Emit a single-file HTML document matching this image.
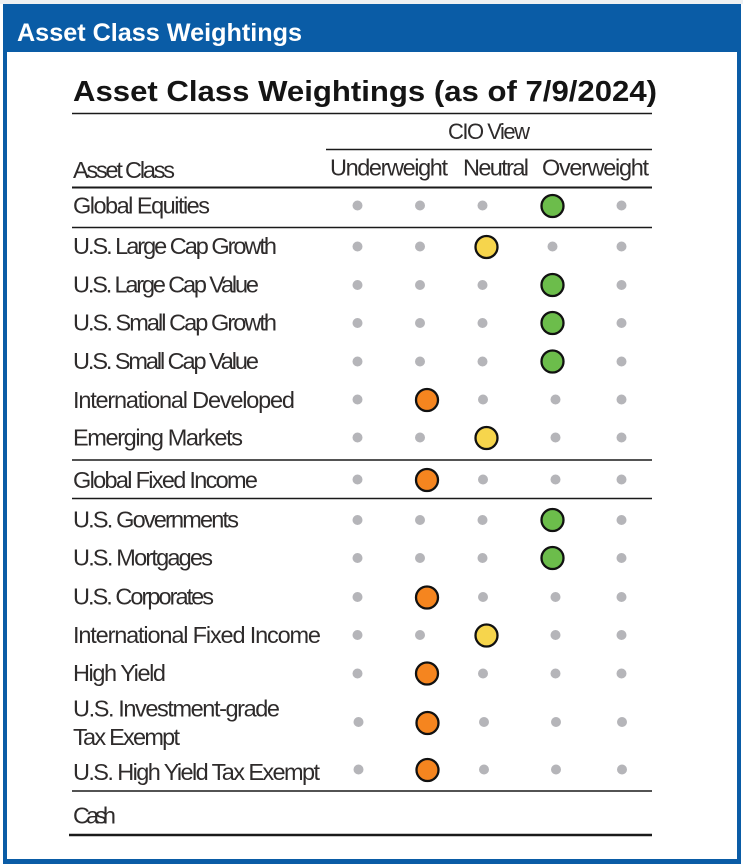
<!DOCTYPE html>
<html>
<head>
<meta charset="utf-8">
<style>
html,body{margin:0;padding:0;background:#ffffff;}
svg{display:block;}
</style>
</head>
<body>
<svg width="743" height="865" viewBox="0 0 743 865" xmlns="http://www.w3.org/2000/svg">
  <rect x="0" y="0" width="743" height="865" fill="#ffffff"/>
  <rect x="0" y="0" width="743" height="4" fill="#eef0f2"/>
  <!-- outer blue frame -->
  <rect x="3" y="4" width="738" height="860" fill="#0a5ca6"/>
  <rect x="7" y="52" width="730" height="807" fill="#ffffff"/>
  <!-- header text -->
  <text x="17" y="41" font-family="Liberation Sans, sans-serif" font-weight="bold" font-size="25" fill="#ffffff" textLength="285" lengthAdjust="spacingAndGlyphs">Asset Class Weightings</text>

  <!-- title -->
  <text x="73" y="101" font-family="Liberation Sans, sans-serif" font-weight="bold" font-size="29" fill="#141414" textLength="584" lengthAdjust="spacingAndGlyphs">Asset Class Weightings (as of 7/9/2024)</text>

  <g stroke="#1a1a1a" fill="none">
    <line x1="72" y1="113.5" x2="652" y2="113.5" stroke-width="1.6"/>
    <line x1="326" y1="149.5" x2="652" y2="149.5" stroke-width="1.5"/>
    <line x1="72" y1="187.5" x2="652" y2="187.5" stroke-width="2"/>
    <line x1="72" y1="227.5" x2="652" y2="227.5" stroke-width="1.6"/>
    <line x1="72" y1="460" x2="652" y2="460" stroke-width="1.6"/>
    <line x1="72" y1="498.5" x2="652" y2="498.5" stroke-width="1.6"/>
    <line x1="72" y1="791" x2="652" y2="791" stroke-width="1.6"/>
    <line x1="69" y1="835" x2="652" y2="835" stroke-width="2.6"/>
  </g>

  <g font-family="Liberation Sans, sans-serif" font-size="23.5" fill="#2e2b2b" lengthAdjust="spacingAndGlyphs">
    <text x="448" y="139" textLength="82" font-size="22">CIO View</text>
    <text x="330" y="175.5" textLength="118">Underweight</text>
    <text x="463" y="175.5" textLength="66">Neutral</text>
    <text x="542" y="175.5" textLength="107">Overweight</text>

    <text x="73" y="178" textLength="102">Asset Class</text>
    <text x="73" y="213.5" textLength="137">Global Equities</text>
    <text x="73" y="254" textLength="204">U.S. Large Cap Growth</text>
    <text x="73" y="292.5" textLength="186">U.S. Large Cap Value</text>
    <text x="73" y="330.5" textLength="204">U.S. Small Cap Growth</text>
    <text x="73" y="369" textLength="186">U.S. Small Cap Value</text>
    <text x="73" y="408" textLength="222">International Developed</text>
    <text x="73" y="445.5" textLength="170">Emerging Markets</text>
    <text x="73" y="488" textLength="185">Global Fixed Income</text>
    <text x="73" y="527.5" textLength="166">U.S. Governments</text>
    <text x="73" y="565.5" textLength="140">U.S. Mortgages</text>
    <text x="73" y="604.5" textLength="141">U.S. Corporates</text>
    <text x="73" y="643" textLength="248">International Fixed Income</text>
    <text x="73" y="681" textLength="93">High Yield</text>
    <text x="73" y="716.7" textLength="207">U.S. Investment-grade</text>
    <text x="73" y="745" textLength="107">Tax Exempt</text>
    <text x="73" y="780" textLength="247">U.S. High Yield Tax Exempt</text>
    <text x="73" y="823.5" textLength="43">Cash</text>
  </g>

  <!-- gray dots -->
  <g fill="#b5b5b9">
    <circle cx="357.5" cy="205.5" r="5"/><circle cx="420" cy="205.5" r="5"/><circle cx="482.5" cy="205.5" r="5"/><circle cx="621.5" cy="205.5" r="5"/>
    <circle cx="357.5" cy="246.5" r="5"/><circle cx="420" cy="246.5" r="5"/><circle cx="552.5" cy="246.5" r="5"/><circle cx="621.5" cy="246.5" r="5"/>
    <circle cx="357.5" cy="285" r="5"/><circle cx="420" cy="285" r="5"/><circle cx="482.5" cy="285" r="5"/><circle cx="621.5" cy="285" r="5"/>
    <circle cx="357.5" cy="323" r="5"/><circle cx="420" cy="323" r="5"/><circle cx="482.5" cy="323" r="5"/><circle cx="621.5" cy="323" r="5"/>
    <circle cx="357.5" cy="361.5" r="5"/><circle cx="420" cy="361.5" r="5"/><circle cx="482.5" cy="361.5" r="5"/><circle cx="621.5" cy="361.5" r="5"/>
    <circle cx="357.5" cy="399.5" r="5"/><circle cx="483" cy="399.5" r="5"/><circle cx="555.5" cy="399.5" r="5"/><circle cx="621.5" cy="399.5" r="5"/>
    <circle cx="357.5" cy="437.5" r="5"/><circle cx="420" cy="437.5" r="5"/><circle cx="555.5" cy="437.5" r="5"/><circle cx="621.5" cy="437.5" r="5"/>
    <circle cx="357.5" cy="479.5" r="5"/><circle cx="483" cy="479.5" r="5"/><circle cx="555.5" cy="479.5" r="5"/><circle cx="621.5" cy="479.5" r="5"/>
    <circle cx="357.5" cy="520" r="5"/><circle cx="420" cy="520" r="5"/><circle cx="482.5" cy="520" r="5"/><circle cx="621.5" cy="520" r="5"/>
    <circle cx="357.5" cy="558" r="5"/><circle cx="420" cy="558" r="5"/><circle cx="482.5" cy="558" r="5"/><circle cx="621.5" cy="558" r="5"/>
    <circle cx="357.5" cy="597" r="5"/><circle cx="483" cy="597" r="5"/><circle cx="555.5" cy="597" r="5"/><circle cx="621.5" cy="597" r="5"/>
    <circle cx="357.5" cy="635" r="5"/><circle cx="420" cy="635" r="5"/><circle cx="555.5" cy="635" r="5"/><circle cx="621.5" cy="635" r="5"/>
    <circle cx="357.5" cy="673.5" r="5"/><circle cx="483" cy="673.5" r="5"/><circle cx="555.5" cy="673.5" r="5"/><circle cx="621.5" cy="673.5" r="5"/>
    <circle cx="358.5" cy="722" r="5"/><circle cx="484" cy="722" r="5"/><circle cx="556" cy="722" r="5"/><circle cx="622" cy="722" r="5"/>
    <circle cx="358.5" cy="769.5" r="5"/><circle cx="484" cy="769.5" r="5"/><circle cx="556" cy="769.5" r="5"/><circle cx="622" cy="769.5" r="5"/>
  </g>

  <!-- colored circles -->
  <g stroke="#111111" stroke-width="2.3">
    <circle cx="552.5" cy="206" r="11" fill="#6cbd4b"/>
    <circle cx="486.5" cy="247" r="11" fill="#f6d54c"/>
    <circle cx="552.5" cy="285" r="11" fill="#6cbd4b"/>
    <circle cx="552.5" cy="323" r="11" fill="#6cbd4b"/>
    <circle cx="552.5" cy="361.5" r="11" fill="#6cbd4b"/>
    <circle cx="427" cy="400" r="11" fill="#f5851f"/>
    <circle cx="486.5" cy="438" r="11" fill="#f6d54c"/>
    <circle cx="427" cy="480" r="11" fill="#f5851f"/>
    <circle cx="552.5" cy="520" r="11" fill="#6cbd4b"/>
    <circle cx="552.5" cy="558" r="11" fill="#6cbd4b"/>
    <circle cx="427" cy="597.5" r="11" fill="#f5851f"/>
    <circle cx="486.5" cy="635.5" r="11" fill="#f6d54c"/>
    <circle cx="427" cy="673.5" r="11" fill="#f5851f"/>
    <circle cx="427.5" cy="723" r="11" fill="#f5851f"/>
    <circle cx="427.5" cy="770" r="11" fill="#f5851f"/>
  </g>
</svg>
</body>
</html>
